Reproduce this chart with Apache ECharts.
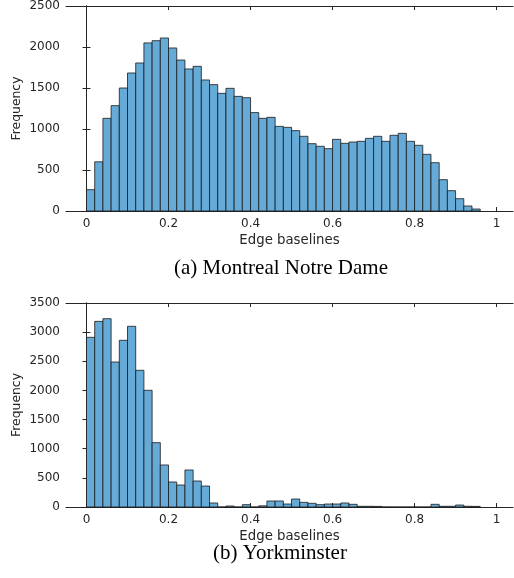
<!DOCTYPE html>
<html>
<head>
<meta charset="utf-8">
<script src="https://cdn.jsdelivr.net/npm/echarts@6/dist/echarts.min.js"></script>
<style>
  html, body { margin: 0; padding: 0; background: #fff; }
  #chart { width: 514px; height: 578px; }
</style>
</head>
<body>
<div id="chart"></div>
<script>
// histogram bins (left edges), width 0.02
const binStarts = [0, 0.02, 0.04, 0.06, 0.08, 0.10, 0.12, 0.14, 0.16, 0.18,
  0.20, 0.22, 0.24, 0.26, 0.28, 0.30, 0.32, 0.34, 0.36, 0.38,
  0.40, 0.42, 0.44, 0.46, 0.48, 0.50, 0.52, 0.54, 0.56, 0.58,
  0.60, 0.62, 0.64, 0.66, 0.68, 0.70, 0.72, 0.74, 0.76, 0.78,
  0.80, 0.82, 0.84, 0.86, 0.88, 0.90, 0.92, 0.94]
const binWidth = 0.02

const montrealCounts = [260, 600, 1130, 1285, 1500, 1683, 1805, 2050, 2077, 2110,
  1988, 1841, 1732, 1764, 1598, 1541, 1435, 1496, 1398, 1382,
  1200, 1130, 1142, 1032, 1020, 980, 911, 821, 789, 760,
  874, 825, 841, 850, 886, 911, 850, 923, 947, 850,
  801, 691, 589, 382, 248, 150, 61, 24]

const yorkCounts = [2911, 3185, 3231, 2488, 2860, 3100, 2345, 2002, 1104, 721,
  429, 377, 635, 446, 360, 69, 0, 17, 0, 40,
  0, 20, 103, 103, 51, 137, 80, 63, 40, 51,
  51, 69, 46, 12, 12, 10, 0, 0, 0, 0,
  0, 0, 46, 12, 12, 34, 12, 10]

const xTicks = [0, 0.2, 0.4, 0.6, 0.8, 1]
const captions = ['(a) Montreal Notre Dame', '(b) Yorkminster']

const ink = '#262626'
const font = 'DejaVu Sans'

const chart = echarts.init(document.getElementById('chart'))

function renderBar(params, api) {
  const x0 = api.value(0)
  const y = api.value(1)
  const p0 = api.coord([x0, 0])
  const p1 = api.coord([x0 + binWidth, y])
  return {
    type: 'rect',
    shape: { x: p0[0], y: p1[1], width: p1[0] - p0[0], height: p0[1] - p1[1] },
    style: { fill: '#66aad7', stroke: '#1a1a1a', lineWidth: 0.8 }
  }
}

function xAxes(gridIndex) {
  const base = {
    type: 'value', gridIndex, min: -0.05, max: 1.04,
    axisLine: { show: true, onZero: false, lineStyle: { color: ink, width: 1 } },
    splitLine: { show: false }
  }
  return [
    Object.assign({}, base, {
      position: 'bottom',
      name: 'Edge baselines', nameLocation: 'middle', nameGap: 23, nameMoveOverlap: false,
      nameTextStyle: { fontFamily: font, fontSize: 13.3, color: ink },
      axisTick: { show: true, inside: true, length: 4, customValues: xTicks, lineStyle: { color: ink } },
      axisLabel: { show: true, customValues: xTicks, margin: 7, fontFamily: font, fontSize: 12, color: ink }
    }),
    Object.assign({}, base, {
      position: 'top',
      axisTick: { show: true, inside: true, length: 4, customValues: xTicks, lineStyle: { color: ink } },
      axisLabel: { show: false }
    })
  ]
}

function yAxes(gridIndex, max) {
  const base = {
    type: 'value', gridIndex, min: 0, max, interval: 500,
    axisLine: { show: true, lineStyle: { color: ink, width: 1 } },
    axisTick: { show: true, inside: true, length: 4, lineStyle: { color: ink } },
    splitLine: { show: false }
  }
  return [
    Object.assign({}, base, {
      position: 'left',
      name: 'Frequency', nameLocation: 'middle', nameGap: 43, nameMoveOverlap: false,
      nameTextStyle: { fontFamily: font, fontSize: 12.4, color: ink },
      axisLabel: { margin: 6, fontFamily: font, fontSize: 12, color: ink, formatter: v => String(v) }
    }),
    Object.assign({}, base, { position: 'right', axisLabel: { show: false } })
  ]
}

const option = {
  animation: false,
  grid: [
    { left: 66, right: 1, top: 6, bottom: 367, containLabel: false, outerBoundsMode: 'none' },
    { left: 66, right: 1, top: 303, bottom: 71, containLabel: false, outerBoundsMode: 'none' }
  ],
  xAxis: [...xAxes(0), ...xAxes(1)],
  yAxis: [...yAxes(0, 2500), ...yAxes(1, 3500)],
  series: [
    {
      type: 'custom', xAxisIndex: 0, yAxisIndex: 0,
      renderItem: renderBar, encode: { x: 0, y: 1 },
      data: binStarts.map((b, i) => [b, montrealCounts[i]])
    },
    {
      type: 'custom', xAxisIndex: 2, yAxisIndex: 2,
      renderItem: renderBar, encode: { x: 0, y: 1 },
      data: binStarts.map((b, i) => [b, yorkCounts[i]])
    }
  ],
  graphic: [
    { type: 'text', x: 281, y: 268, style: { text: captions[0], font: '21px "Liberation Serif"', fill: '#000', align: 'center', verticalAlign: 'middle' } },
    { type: 'text', x: 280, y: 553, style: { text: captions[1], font: '21px "Liberation Serif"', fill: '#000', align: 'center', verticalAlign: 'middle' } }
  ]
}

chart.setOption(option)
</script>
</body>
</html>
